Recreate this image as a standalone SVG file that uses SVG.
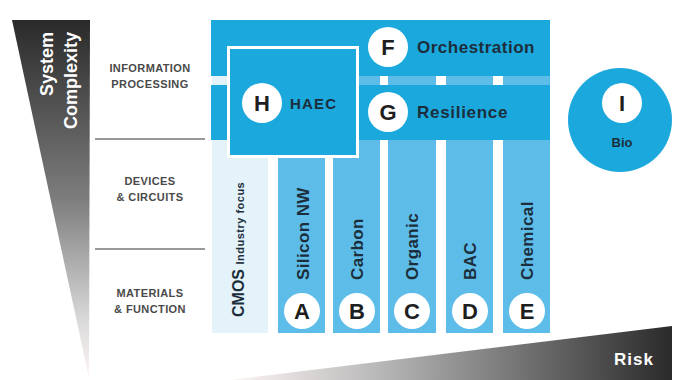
<svg xmlns="http://www.w3.org/2000/svg" width="674" height="380" viewBox="0 0 674 380">
<defs>
<linearGradient id="gv" x1="0" y1="0" x2="0" y2="1">
<stop offset="0" stop-color="#2a2a2a"/><stop offset="0.5" stop-color="#7d7d7d"/><stop offset="0.85" stop-color="#dcdcdc"/><stop offset="1" stop-color="#fff3f3"/>
</linearGradient>
<linearGradient id="gh" gradientUnits="userSpaceOnUse" x1="230" y1="0" x2="672" y2="0">
<stop offset="0" stop-color="#fff6f6"/><stop offset="0.35" stop-color="#b5b5b5"/><stop offset="1" stop-color="#2a2a2a"/>
</linearGradient>
<style>
.lbl{font-family:"Liberation Sans",Arial,sans-serif;font-weight:bold;font-size:11px;fill:#4a4a4a;text-anchor:middle;letter-spacing:0.4px}
.bar{fill:#1ba8dc}
.col{fill:#5dbde8}
.circ{fill:#ffffff}
.let{font-family:"Liberation Sans",Arial,sans-serif;font-weight:bold;font-size:22px;fill:#1e1e1e;text-anchor:middle}
.big{font-family:"Liberation Sans",Arial,sans-serif;font-weight:bold;font-size:17px;fill:#1c2e3b}
.vt{font-family:"Liberation Sans",Arial,sans-serif;font-weight:bold;font-size:17px;fill:#1c2e3b;letter-spacing:0.4px}
.sep{stroke:#777;stroke-width:1.5}
</style>
</defs>
<g id="axis-complexity">
<polygon points="12,20 90,20 89,378" fill="url(#gv)"/>
<text transform="translate(53,32) rotate(-90)" font-family="Liberation Sans,Arial,sans-serif" font-weight="bold" font-size="18" fill="#fff" text-anchor="end">System</text>
<text transform="translate(77,32) rotate(-90)" font-family="Liberation Sans,Arial,sans-serif" font-weight="bold" font-size="18" fill="#fff" text-anchor="end">Complexity</text>
</g>
<g id="axis-risk">
<polygon points="230,380 672,326 672,380" fill="url(#gh)"/>
<text x="634" y="365" font-family="Liberation Sans,Arial,sans-serif" font-weight="bold" font-size="17" fill="#fff" text-anchor="middle" letter-spacing="1">Risk</text>
</g>
<g id="levels">
<line class="sep" x1="95" y1="139" x2="205" y2="139"/>
<line class="sep" x1="95" y1="249" x2="205" y2="249"/>
<text class="lbl" x="150" y="72">INFORMATION</text>
<text class="lbl" x="150" y="88">PROCESSING</text>
<text class="lbl" x="150" y="185">DEVICES</text>
<text class="lbl" x="150" y="201">&amp; CIRCUITS</text>
<text class="lbl" x="150" y="297">MATERIALS</text>
<text class="lbl" x="150" y="313">&amp; FUNCTION</text>
</g>
<g id="cmos">
<rect x="212" y="20" width="56" height="313" fill="#e4f2fa"/>
<text transform="translate(244,317) rotate(-90)" font-family="Liberation Sans,Arial,sans-serif" font-weight="bold" font-size="16" fill="#1c2e3b">CMOS <tspan font-size="11" letter-spacing="0.5">Industry focus</tspan></text>
</g>
<g id="A">
<rect class="col" x="278" y="20" width="47" height="313"/>
<text class="vt" transform="translate(309,280) rotate(-90)">Silicon NW</text>
<circle class="circ" cx="302" cy="311" r="18"/>
<text class="let" x="302" y="319">A</text>
</g>
<g id="B">
<rect class="col" x="333" y="20" width="47" height="313"/>
<text class="vt" transform="translate(363,280) rotate(-90)">Carbon</text>
<circle class="circ" cx="357" cy="311" r="18"/>
<text class="let" x="357" y="319">B</text>
</g>
<g id="C">
<rect class="col" x="388" y="20" width="48" height="313"/>
<text class="vt" transform="translate(418,280) rotate(-90)">Organic</text>
<circle class="circ" cx="412" cy="311" r="18"/>
<text class="let" x="412" y="319">C</text>
</g>
<g id="D">
<rect class="col" x="446" y="20" width="47" height="313"/>
<text class="vt" transform="translate(476,280) rotate(-90)">BAC</text>
<circle class="circ" cx="470" cy="311" r="18"/>
<text class="let" x="470" y="319">D</text>
</g>
<g id="E">
<rect class="col" x="503" y="20" width="47" height="313"/>
<text class="vt" transform="translate(533,280) rotate(-90)">Chemical</text>
<circle class="circ" cx="527" cy="311" r="18"/>
<text class="let" x="527" y="319">E</text>
</g>
<g id="F">
<rect class="bar" x="211" y="20" width="339" height="56"/>
<circle class="circ" cx="388" cy="47" r="20"/>
<text class="let" x="388" y="55">F</text>
<text class="big" x="417" y="53" letter-spacing="0.5">Orchestration</text>
</g>
<g id="G">
<rect class="bar" x="211" y="85" width="339" height="55"/>
<circle class="circ" cx="388" cy="112" r="20"/>
<text class="let" x="388" y="120">G</text>
<text class="big" x="417" y="118" letter-spacing="0.7">Resilience</text>
</g>
<g id="H">
<rect x="228.5" y="47.5" width="129" height="109" fill="#1ba8dc" stroke="#fff" stroke-width="3"/>
<circle class="circ" cx="262" cy="103" r="20"/>
<text class="let" x="262" y="111">H</text>
<text x="290" y="109" font-family="Liberation Sans,Arial,sans-serif" font-weight="bold" font-size="15" fill="#1c2e3b" letter-spacing="1.2">HAEC</text>
</g>
<g id="I">
<circle cx="620" cy="120" r="52" fill="#1ba8dc"/>
<circle class="circ" cx="622" cy="103" r="20"/>
<text class="let" x="622" y="111">I</text>
<text x="622" y="147" font-family="Liberation Sans,Arial,sans-serif" font-weight="bold" font-size="13" fill="#1c2e3b" text-anchor="middle">Bio</text>
</g>
<g id="connectors"/>
</svg>
